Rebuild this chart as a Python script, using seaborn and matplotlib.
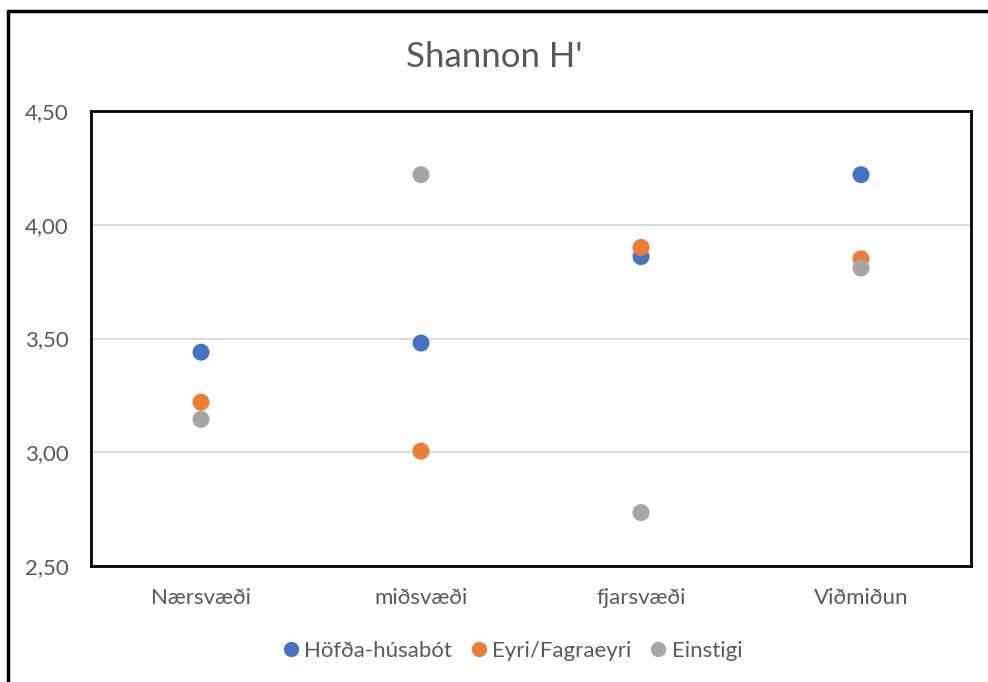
import matplotlib
matplotlib.use('Agg')
import pandas as pd
import matplotlib.pyplot as plt
import matplotlib.lines as mlines
import seaborn as sns

# Shannon H' per area and site
areas = ["Nærsvæði", "miðsvæði", "fjarsvæði", "Viðmiðun"]
hofda = [3.44, 3.48, 3.86, 4.22]
eyri = [3.22, 3.005, 3.90, 3.85]
einstigi = [3.145, 4.22, 2.735, 3.81]
series = ["Höfða-húsabót", "Eyri/Fagraeyri", "Einstigi"]
colors = ["#4472C4", "#ED7D31", "#A5A5A5"]
yticks = [2.5, 3.0, 3.5, 4.0, 4.5]

df = pd.DataFrame({
    "area": areas * 3,
    "H": hofda + eyri + einstigi,
    "site": [series[0]] * 4 + [series[1]] * 4 + [series[2]] * 4,
})

sns.set_style("white")
plt.rcParams['font.family'] = ['Lato', 'DejaVu Sans']
txt = "#595959"

fig = plt.figure(figsize=(9.88, 6.82), dpi=100)
ax = fig.add_axes([91 / 988, 1 - 566 / 682, 880 / 988, 455 / 682])

sns.scatterplot(data=df, x="area", y="H", hue="site", palette=colors,
                s=150, edgecolor="none", ax=ax, legend=False, zorder=3)

ax.set_xlim(-0.5, 3.5)
ax.set_ylim(2.5, 4.5)
ax.set_yticks(yticks)
ax.set_yticklabels(["{:.2f}".format(v).replace(".", ",") for v in yticks])
ax.set_xlabel("")
ax.set_ylabel("")
for v in yticks[1:-1]:
    ax.axhline(v, color="#D9D9D9", lw=1.3, zorder=1)
for sp in ax.spines.values():
    sp.set_color("black")
    sp.set_linewidth(2)
ax.tick_params(axis="both", length=0, labelsize=16, labelcolor=txt)
ax.tick_params(axis="y", pad=16)
ax.tick_params(axis="x", pad=16)

fig.text(0.5, 1 - 57 / 682, "Shannon H'", ha="center", va="center",
         fontsize=25, color=txt)

handles = [mlines.Line2D([], [], ls="none", marker="o", markersize=11,
                         markerfacecolor=c, markeredgecolor="none", label=s)
           for c, s in zip(colors, series)]
fig.legend(handles=handles, loc="center", bbox_to_anchor=(510 / 988, 1 - 651 / 682),
           ncol=3, frameon=False, fontsize=16, labelcolor=txt,
           handletextpad=0.0, columnspacing=0.6, handlelength=1.2)

# outer chart frame (only top and left edges visible)
fig.add_artist(mlines.Line2D([8 / 988, 1.0], [1 - 11 / 682] * 2, color="black",
                             lw=2.5, transform=fig.transFigure))
fig.add_artist(mlines.Line2D([8 / 988] * 2, [0.0, 1 - 11 / 682], color="black",
                             lw=2.5, transform=fig.transFigure))

fig.savefig("out.png", dpi=100)
